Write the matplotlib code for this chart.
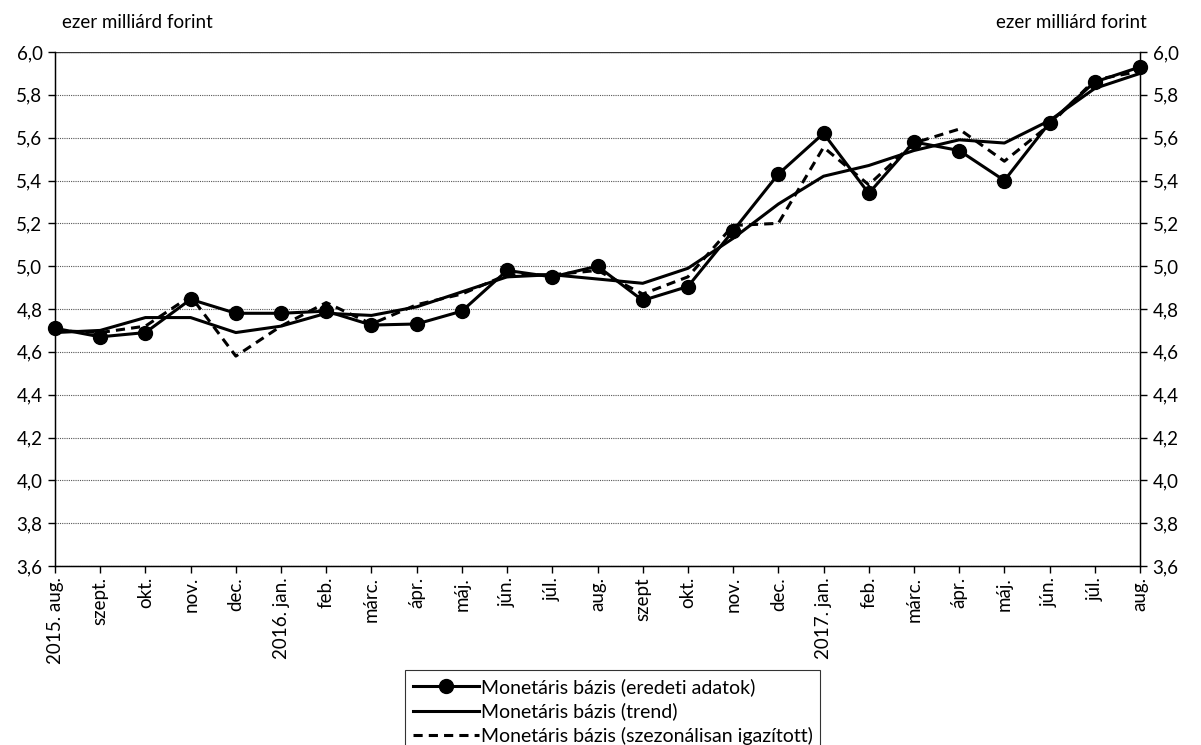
import matplotlib
matplotlib.use("Agg")
import matplotlib.pyplot as plt
import numpy as np

plt.rcParams['font.family'] = ['Lato', 'DejaVu Sans']

categories = ["2015. aug.", "szept.", "okt.", "nov.", "dec.", "2016. jan.", "feb.", "márc.",
              "ápr.", "máj.", "jún.", "júl.", "aug.", "szept", "okt.", "nov.", "dec.",
              "2017. jan.", "feb.", "márc.", "ápr.", "máj.", "jún.", "júl.", "aug."]

original = [4.71, 4.67, 4.69, 4.845, 4.78, 4.78, 4.79, 4.725, 4.73, 4.79, 4.98, 4.95, 5.00,
            4.84, 4.905, 5.165, 5.43, 5.62, 5.34, 5.58, 5.54, 5.40, 5.67, 5.86, 5.93]
trend = [4.69, 4.70, 4.76, 4.76, 4.69, 4.72, 4.78, 4.77, 4.81, 4.88, 4.95, 4.96, 4.94,
         4.92, 4.99, 5.13, 5.29, 5.42, 5.47, 5.54, 5.59, 5.575, 5.68, 5.83, 5.90]
seasonal = [4.70, 4.69, 4.72, 4.86, 4.58, 4.72, 4.83, 4.73, 4.82, 4.87, 4.96, 4.96, 4.98,
            4.87, 4.95, 5.19, 5.20, 5.555, 5.38, 5.575, 5.64, 5.49, 5.66, 5.87, 5.91]

labels = ["Monetáris bázis (eredeti adatok)", "Monetáris bázis (trend)",
          "Monetáris bázis (szezonálisan igazított)"]
yticks = np.arange(3.6, 6.01, 0.2)
unit = "ezer milliárd forint"

FS = 13.5

fig = plt.figure(figsize=(12.01, 7.45), dpi=100)
ax = fig.add_axes([55/1201, 1-566/745, (1140-55)/1201, (566-52)/745])

x = np.arange(len(categories))
l1, = ax.plot(x, original, color='black', lw=2.2, marker='o', markersize=10, zorder=4, clip_on=False)
l2, = ax.plot(x, trend, color='black', lw=2.2, zorder=3, clip_on=False)
l3, = ax.plot(x, seasonal, color='black', lw=2.2, ls=(0, (3, 2)), zorder=3, clip_on=False)

ax.set_xlim(0, len(categories)-1)
ax.set_ylim(3.6, 6.0)
ax.set_yticks(yticks)
ax.set_yticklabels([f"{v:.1f}".replace('.', ',') for v in yticks], fontsize=FS)
ax.set_xticks(x)
ax.set_xticklabels(categories, rotation=90, fontsize=FS)
ax.tick_params(axis='x', direction='out', length=5, width=1, pad=3)
ax.tick_params(axis='y', direction='out', length=5, width=1, pad=4)
ax.yaxis.grid(True, color='#555555', ls=(0, (1, 1)), lw=0.8)
ax.set_axisbelow(True)
ax.spines['top'].set_visible(False)
for s in ['left', 'right', 'bottom']:
    ax.spines[s].set_linewidth(1.0)
ax.axhline(6.0, color='#333333', lw=1.0, zorder=1)

ax2 = ax.twinx()
ax2.set_ylim(3.6, 6.0)
ax2.set_yticks(yticks)
ax2.set_yticklabels([f"{v:.1f}".replace('.', ',') for v in yticks], fontsize=FS)
ax2.tick_params(axis='y', direction='out', length=5, width=1, pad=4)
ax2.spines['top'].set_visible(False)

fig.text(62/1201, 1-22/745, unit, fontsize=FS, ha='left', va='center')
fig.text(1147/1201, 1-22/745, unit, fontsize=FS, ha='right', va='center')

leg = fig.legend([l1, l2, l3], labels, loc='upper left',
                 bbox_to_anchor=(405/1201, 1-670/745), fontsize=14,
                 frameon=True, fancybox=False, edgecolor='black',
                 handlelength=3.4, handletextpad=0.1, labelspacing=0.35,
                 borderpad=0.4, borderaxespad=0)
leg.get_frame().set_linewidth(0.8)

fig.savefig("out.png", dpi=100)
